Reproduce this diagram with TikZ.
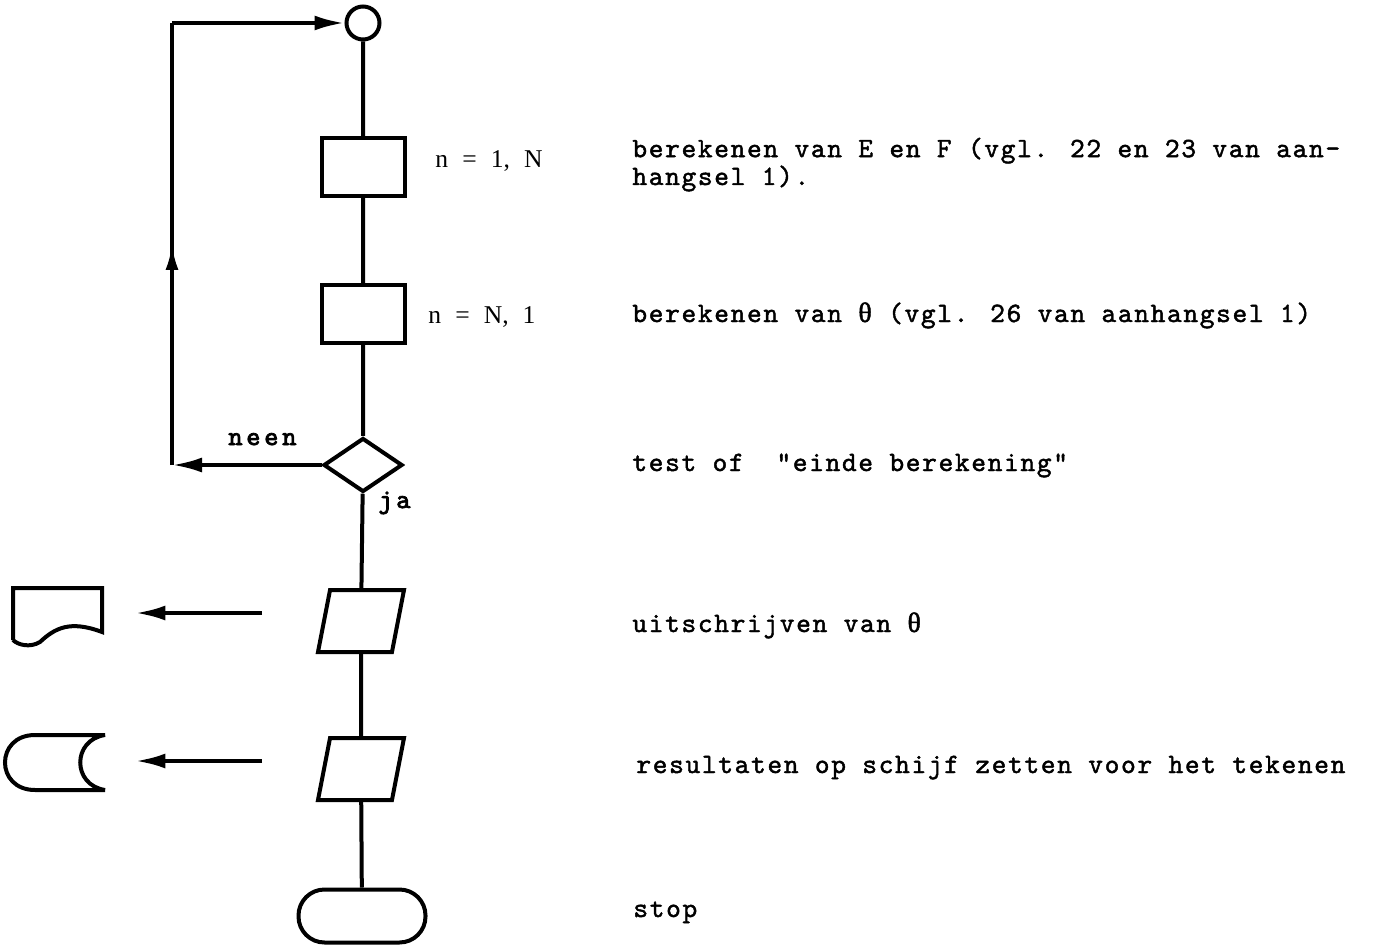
\documentclass[tikz,border=0pt]{standalone}
\usepackage{fontspec}
\setmainfont{Liberation Serif}
\newfontfamily\tw{lmmono10-regular.otf}[LetterSpace=6,FakeBold=1.6]
\newfontfamily\twb{lmmono10-regular.otf}[LetterSpace=14,FakeBold=3]
\newfontfamily\grk{Liberation Serif}[FakeBold=1.6]
\newfontfamily\lab{Liberation Serif}[WordSpace=2.2]
\usetikzlibrary{shapes.geometric,arrows.meta,decorations.markings}

\tikzset{
  flowline/.style={line width=2pt},
  arr/.style={-{Latex[length=15pt,width=7.5pt]}},
  midarr/.style={decoration={markings,mark=at position 0.5 with {\arrow{Latex[length=13pt,width=6.5pt]}}},postaction={decorate}},
  connector/.style={draw,circle,line width=2pt,minimum size=16.5pt,inner sep=0pt},
  procbox/.style={draw,rectangle,line width=2pt,minimum width=41.5pt,minimum height=29pt,inner sep=0pt},
  testbox/.style={draw,diamond,line width=2pt,minimum width=39.5pt,minimum height=27pt,inner sep=0pt},
  iobox/.style={draw,trapezium,trapezium left angle=79,trapezium right angle=101,trapezium stretches=true,minimum width=43pt,minimum height=31pt,line width=2pt,inner sep=2pt},
  termbox/.style={draw,rectangle,rounded corners=13pt,line width=2pt,minimum width=63.5pt,minimum height=26.5pt,inner sep=0pt},
  note/.style={anchor=base west,inner sep=0pt,font=\tw\fontsize{14}{12.5}\selectfont},
  cond/.style={anchor=base west,inner sep=0pt,font=\twb\fontsize{13.5}{14}\selectfont},
  parm/.style={anchor=base west,inner sep=0pt,font=\lab\fontsize{12.8}{13}\selectfont}
}
\newcommand{\thet}{{\grk θ}}

\begin{document}
\begin{tikzpicture}[x=0.5pt,y=-0.5pt]
\useasboundingbox (0,0) rectangle (1385,946);

% flow chart column
\node[connector] (start) at (363,23) {};
\node[procbox] (calcEF) at (363,167) {};
\node[procbox] (calcth) at (363,314) {};
\node[testbox] (test) at (363,465) {};
\node[iobox] (out1) at (361,621) {};
\node[iobox] (out2) at (361,769) {};
\node[termbox] (stop) at (362,916) {};

\draw[flowline] (start) -- (calcEF) -- (calcth) -- (test) -- (out1) -- (out2) -- (stop);

% loop back
\coordinate (cb) at (172,465);
\coordinate (ct) at (172,23);
\draw[flowline,arr] (test.west) -- (cb);
\draw[flowline,midarr] (cb) -- (ct);
\draw[flowline,arr] (ct) -- (start.west);

\node[cond] (neen) at (228,445) {neen};
\node[cond] (ja) at (378,508) {ja};

\node[parm] (rng1) at (435,168) {n = 1, N};
\node[parm] (rng2) at (428,324) {n = N, 1};

% printer and disk
\node[minimum width=44.5pt,minimum height=28.5pt,inner sep=0pt] (paper) at (57.5,616) {};
\draw[flowline] (13,640) -- (13,588) -- (102,588) -- (102,632)
  .. controls (70,620) and (55,628) .. (40,642)
  .. controls (30,648) and (18,645) .. (13,640);
\node[minimum width=50pt,minimum height=27.5pt,inner sep=0pt] (disk) at (55,762) {};
\draw[flowline] (35,735) -- (105,735) .. controls (72,740) and (72,785) .. (105,790)
  -- (35,790) .. controls (-5,790) and (-5,735) .. (35,735);

\coordinate (w1) at (262,613);
\coordinate (w2) at (262,761);
\draw[flowline,arr,shorten >=16.5pt] (w1) -- (w1 -| paper.east);
\draw[flowline,arr,shorten >=15pt] (w2) -- (w2 -| disk.east);

% explanations
\node[note,align=left] (t1) at (632,185) {berekenen van E en F (vgl. 22 en 23 van aan-\\hangsel 1).};
\node[note] (t2) at (632,322) {berekenen van \thet\ (vgl. 26 van aanhangsel 1)};
\node[note] (t3) at (632,471) {test of \ "einde berekening"};
\node[note] (t4) at (632,632) {uitschrijven van \thet};
\node[note] (t5) at (636,773) {resultaten op schijf zetten voor het tekenen};
\node[note] (t6) at (633,917) {stop};
\end{tikzpicture}
\end{document}
